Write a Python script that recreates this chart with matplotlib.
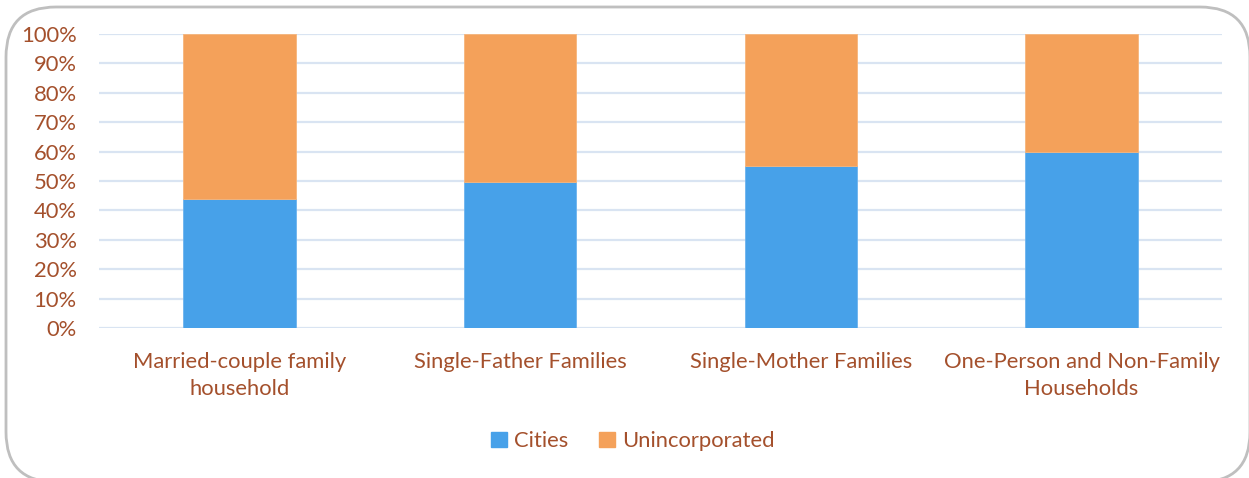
import matplotlib
matplotlib.use("Agg")
import matplotlib.pyplot as plt
from matplotlib.patches import FancyBboxPatch, Patch
import numpy as np

categories = ["Married-couple family\nhousehold", "Single-Father Families",
              "Single-Mother Families", "One-Person and Non-Family\nHouseholds"]
cities = [43.8, 49.6, 55.2, 60.0]
unincorporated = [100 - v for v in cities]
yticks = [0, 10, 20, 30, 40, 50, 60, 70, 80, 90, 100]

BLUE = "#47A1E9"
ORANGE = "#F4A15A"
TXT = "#A4502C"
GRID = "#D9E4F2"
FS = 15.8

plt.rcParams['font.family'] = ['Lato', 'DejaVu Sans']

fig = plt.figure(figsize=(12.49, 4.78), dpi=100)
# rounded border (top visible, bottom/right partially cut)
border = FancyBboxPatch((6/1249, -4/478), 1244/1249, 475/478,
                        boxstyle="round,pad=0,rounding_size=0.04",
                        transform=fig.transFigure, facecolor="none",
                        edgecolor="#BFBFBF", linewidth=2, clip_on=False,
                        mutation_aspect=1249/478)
fig.patches.append(border)

ax = fig.add_axes([99/1249, 1 - 328/478, 1123/1249, 294/478])
ax.set_facecolor("none")
x = np.arange(len(categories))
ax.bar(x, cities, width=0.4, color=BLUE, zorder=3, edgecolor="#6DB3EE", linewidth=0.6)
ax.bar(x, unincorporated, bottom=cities, width=0.4, color=ORANGE, zorder=3,
       edgecolor="#F6B57C", linewidth=0.6)
ax.set_xlim(-0.5, 3.5)
ax.set_ylim(0, 100)
ax.set_yticks(yticks)
ax.set_yticklabels([f"{t}%" for t in yticks])
ax.set_xticks(x)
ax.set_xticklabels(categories, linespacing=1.45)
for s in ax.spines.values():
    s.set_visible(False)
ax.grid(axis="y", color=GRID, linewidth=1.6, zorder=0)
ax.tick_params(axis="y", length=0, pad=16, labelsize=FS, labelcolor=TXT)
ax.tick_params(axis="x", length=0, pad=17, labelsize=FS, labelcolor=TXT)

handles = [Patch(color=BLUE, label="Cities"), Patch(color=ORANGE, label="Unincorporated")]
fig.legend(handles=handles, loc="center", bbox_to_anchor=(633/1249, 1 - 441/478),
           ncol=2, frameon=False, fontsize=FS, labelcolor=TXT,
           handlelength=0.7, handleheight=0.7, handletextpad=0.35, columnspacing=1.4)

fig.savefig("out.png", dpi=100)
